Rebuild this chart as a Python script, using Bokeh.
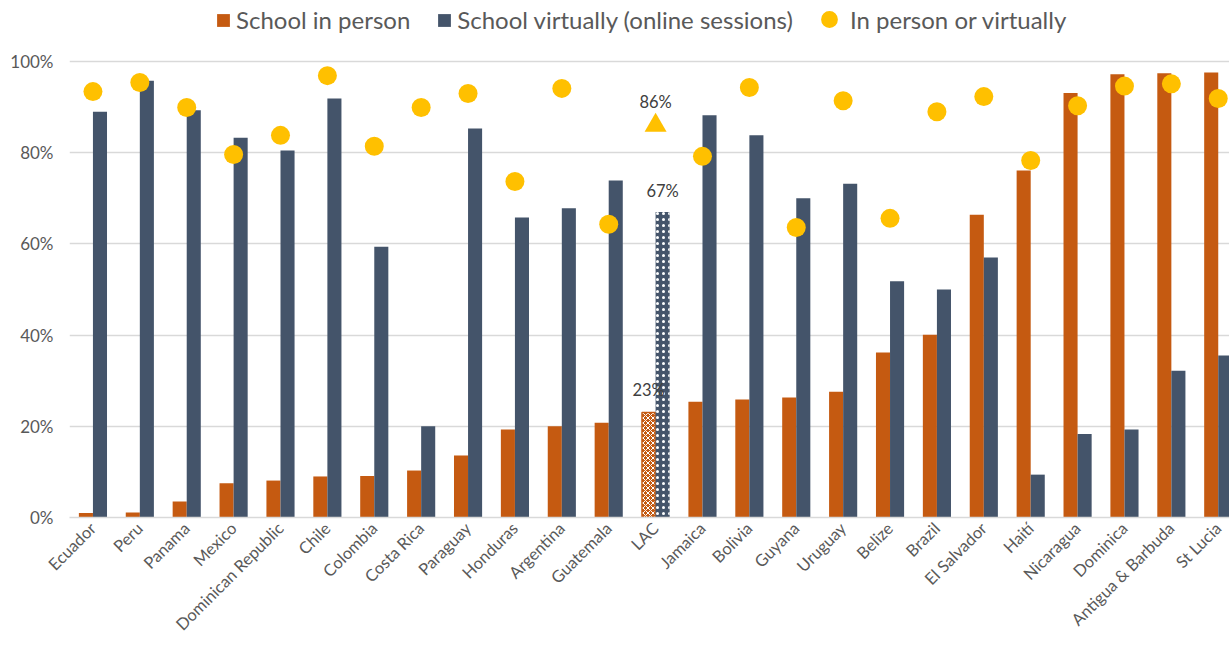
from bokeh.plotting import figure
from bokeh.models import (Range1d, Legend, LegendItem, NumeralTickFormatter,
                          FixedTicker, ColumnDataSource)
from bokeh.core.properties import value
from bokeh.embed import file_html
from bokeh.resources import INLINE
import math

countries = ["Ecuador", "Peru", "Panama", "Mexico", "Dominican Republic", "Chile",
             "Colombia", "Costa Rica", "Paraguay", "Honduras", "Argentina", "Guatemala",
             "LAC", "Jamaica", "Bolivia", "Guyana", "Uruguay", "Belize", "Brazil",
             "El Salvador", "Haití", "Nicaragua", "Dominica", "Antigua & Barbuda", "St Lucia"]
in_person = [1.0, 1.1, 3.5, 7.5, 8.1, 9.0, 9.1, 10.3, 13.6, 19.3, 20.0, 20.8,
             23.0, 25.4, 25.9, 26.3, 27.6, 36.2, 40.1, 66.4, 76.1, 93.1, 97.2, 97.4, 97.6]
virtual = [89.0, 95.8, 89.3, 83.3, 80.5, 91.9, 59.4, 20.0, 85.3, 65.8, 67.8, 73.9,
           67.0, 88.2, 83.8, 70.0, 73.2, 51.8, 50.0, 57.0, 9.4, 18.3, 19.3, 32.2, 35.5]
either = [93.4, 95.4, 89.9, 79.6, 83.8, 96.9, 81.4, 89.9, 93.0, 73.7, 94.1, 64.3,
          86.0, 79.2, 94.3, 63.6, 91.4, 65.6, 89.0, 92.3, 78.3, 90.3, 94.6, 95.1, 91.9]
y_ticks = [0, 20, 40, 60, 80, 100]

ORANGE = "#C55A11"
BLUE = "#44546A"
YELLOW = "#FFC000"
GREY = "#595959"
FONT = "Lato"

lac = countries.index("LAC")
xs = [i + 0.5 for i in range(len(countries))]
idx = [i for i in range(len(countries)) if i != lac]

src = ColumnDataSource(dict(
    xo=[xs[i] - 0.15 for i in idx],
    xb=[xs[i] + 0.15 for i in idx],
    xc=[xs[i] for i in idx],
    ip=[in_person[i] / 100 for i in idx],
    vi=[virtual[i] / 100 for i in idx],
    ei=[either[i] / 100 for i in idx],
))

# frame: top at 0 (legend lives in the headroom above 100%), bottom at 517
p = figure(width=1229, height=647, output_backend="svg", toolbar_location=None,
           x_range=Range1d(0, 24.74), y_range=Range1d(0, 517 / 456),
           min_border_left=69, min_border_right=0, min_border_top=0, min_border_bottom=130)
p.outline_line_color = None
p.background_fill_color = "white"

r_o = p.vbar(x="xo", top="ip", width=0.3, source=src, fill_color=ORANGE, line_color=None)
r_b = p.vbar(x="xb", top="vi", width=0.3, source=src, fill_color=BLUE, line_color=None)
r_d = p.scatter(x="xc", y="ei", source=src, marker="circle", size=19,
                fill_color=YELLOW, line_color=None)

# LAC average with patterned fills
p.vbar(x=[xs[lac] - 0.15], top=[in_person[lac] / 100], width=0.28,
       fill_color=ORANGE, line_color=ORANGE, line_width=1.5,
       hatch_pattern="diagonal_cross", hatch_color="white", hatch_scale=5, hatch_weight=1.0)
p.vbar(x=[xs[lac] + 0.15], top=[virtual[lac] / 100], width=0.3,
       fill_color=BLUE, line_color=None,
       hatch_pattern="dot", hatch_color="white", hatch_scale=6, hatch_weight=1.2)
p.scatter(x=[xs[lac]], y=[either[lac] / 100], marker="triangle", size=22,
          fill_color=YELLOW, line_color=None)

lab_kw = dict(text_font=value(FONT), text_font_size="16.5px", text_color="#404040",
              text_align="center", text_baseline="bottom")
p.text(x=[xs[lac] - 0.15], y=[in_person[lac] / 100], text=[f"{in_person[lac]:.0f}%"],
       y_offset=-13, **lab_kw)
p.text(x=[xs[lac] + 0.15], y=[virtual[lac] / 100], text=[f"{virtual[lac]:.0f}%"],
       y_offset=-11, **lab_kw)
p.text(x=[xs[lac]], y=[either[lac] / 100], text=[f"{either[lac]:.0f}%"],
       y_offset=-13, **lab_kw)

# grid
p.xgrid.grid_line_color = None
p.ygrid.ticker = FixedTicker(ticks=[t / 100 for t in y_ticks])
p.ygrid.grid_line_color = "#D9D9D9"
p.ygrid.grid_line_width = 1.5

# y axis
p.yaxis.ticker = FixedTicker(ticks=[t / 100 for t in y_ticks])
p.yaxis.formatter = NumeralTickFormatter(format="0%")
p.yaxis.axis_line_color = None
p.yaxis.major_tick_line_color = None
p.yaxis.minor_tick_line_color = None
p.yaxis.major_tick_out = 0
p.yaxis.minor_tick_out = 0
p.yaxis.major_label_text_font = FONT
p.yaxis.major_label_text_font_size = "17px"
p.yaxis.major_label_text_color = GREY
p.yaxis.major_label_standoff = 16

# x axis
p.xaxis.ticker = FixedTicker(ticks=xs)
p.xaxis.major_label_overrides = {x: c for x, c in zip(xs, countries)}
p.xaxis.major_label_orientation = math.pi / 4
p.xaxis.axis_line_color = "#D9D9D9"
p.xaxis.axis_line_width = 1.5
p.xaxis.major_tick_line_color = None
p.xaxis.minor_tick_line_color = None
p.xaxis.major_tick_out = 0
p.xaxis.minor_tick_out = 0
p.xaxis.major_label_text_font = FONT
p.xaxis.major_label_text_font_size = "16.5px"
p.xaxis.major_label_text_color = GREY
p.xaxis.major_label_standoff = 8


def style(lg):
    lg.orientation = "horizontal"
    lg.label_text_font = FONT
    lg.label_text_font_size = "24px"
    lg.label_text_color = GREY
    lg.border_line_color = None
    lg.background_fill_alpha = 0
    lg.padding = 0
    lg.margin = 0


leg_a = Legend(items=[
    LegendItem(label="School in person", renderers=[r_o]),
    LegendItem(label="School virtually (online sessions)", renderers=[r_b]),
], location=(146, 483))
style(leg_a)
leg_a.glyph_width = 16
leg_a.glyph_height = 16
leg_a.label_standoff = 5
leg_a.spacing = 26

leg_b = Legend(items=[
    LegendItem(label="In person or virtually", renderers=[r_d]),
], location=(739, 477))
style(leg_b)
leg_b.glyph_width = 42
leg_b.glyph_height = 42
leg_b.label_standoff = -8

p.add_layout(leg_a, "center")
p.add_layout(leg_b, "center")

open("out.html", "w").write(file_html(p, INLINE))
